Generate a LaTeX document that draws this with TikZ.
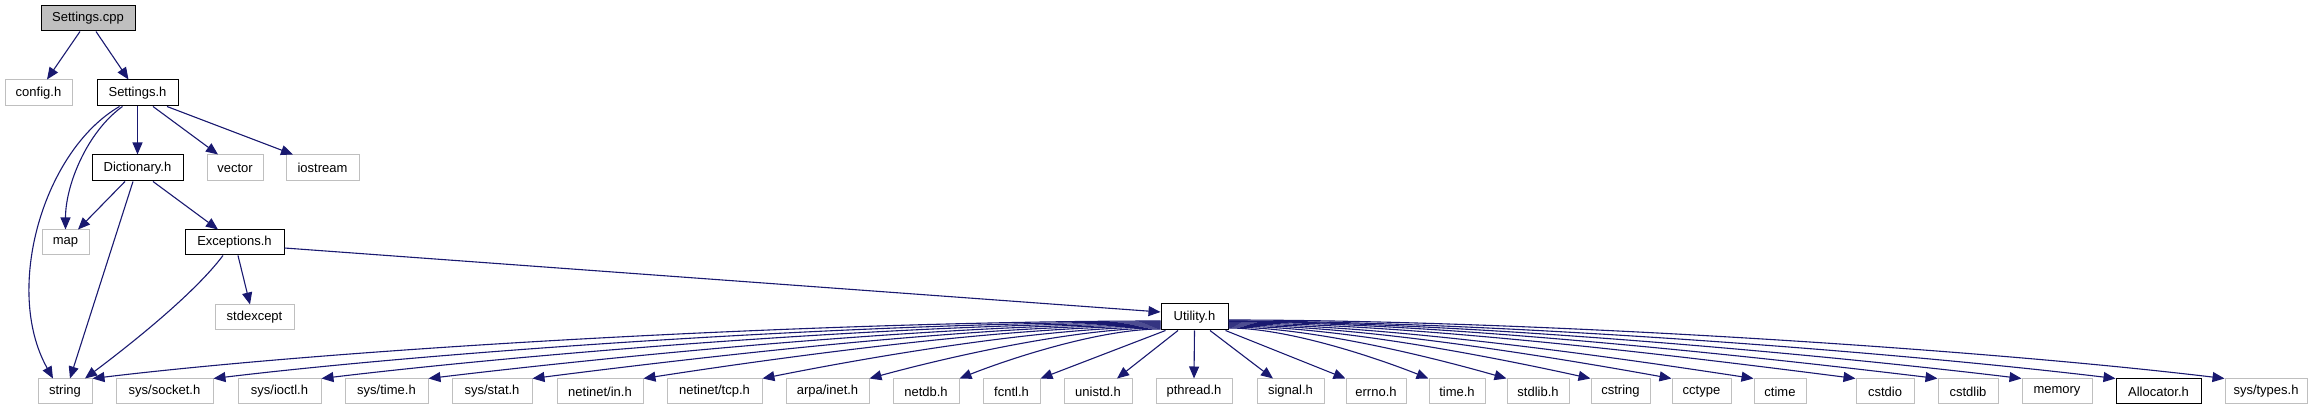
\documentclass[tikz,border=0pt]{standalone}
\usepackage{fontspec}
\setmainfont{Liberation Sans}
\usetikzlibrary{arrows.meta}
\definecolor{edgeblue}{HTML}{191970}
\definecolor{boxgray}{HTML}{BFBFBF}
\newcommand\gnode[7]{\node[#1, minimum width={#5-#3}, minimum height={#6-#4}] (#2) at ({(#3+#5)/2},{(#4+#6)/2}) {#7};}
\begin{document}
\begin{tikzpicture}[x=1pt,y=-1pt,
  every node/.style={font=\fontsize{13pt}{15pt}\selectfont, inner sep=0pt, rectangle},
  ext/.style={draw=boxgray, line width=1pt, fill=white},
  inc/.style={draw=black, line width=1pt, fill=white},
  mainbox/.style={draw=black, line width=1pt, fill=boxgray},
  edge/.style={draw=edgeblue, line width=1.1pt, -{Triangle[length=12pt,width=10pt]}}]
\useasboundingbox (0,0) rectangle (2321,411);
\gnode{mainbox}{cpp}{41}{6}{135}{31}{Settings.cpp}
\gnode{ext}{config}{5}{80}{72}{106}{config.h}
\gnode{inc}{seth}{97}{80}{178}{106}{Settings.h}
\gnode{inc}{dict}{92}{155}{183}{181}{Dictionary.h}
\gnode{ext}{vector}{207}{155}{263}{181}{vector}
\gnode{ext}{iostream}{286}{155}{359}{181}{iostream}
\gnode{ext}{map}{42}{230}{89}{255}{map}
\gnode{inc}{exc}{185}{230}{284}{255}{Exceptions.h}
\gnode{ext}{stdexcept}{215}{305}{294}{330}{stdexcept}
\gnode{inc}{util}{1161}{304}{1228}{330}{Utility.h}
\gnode{ext}{string}{38}{379}{92}{404}{string}
\gnode{ext}{socket}{116}{379}{213}{404}{sys/socket.h}
\gnode{ext}{ioctl}{238}{379}{321}{404}{sys/ioctl.h}
\gnode{ext}{systime}{345}{379}{428}{404}{sys/time.h}
\gnode{ext}{sysstat}{452}{379}{532}{404}{sys/stat.h}
\gnode{ext}{netin}{557}{379}{643}{404}{netinet/in.h}
\gnode{ext}{nettcp}{667}{379}{762}{404}{netinet/tcp.h}
\gnode{ext}{arpa}{786}{379}{869}{404}{arpa/inet.h}
\gnode{ext}{netdb}{893}{379}{959}{404}{netdb.h}
\gnode{ext}{fcntl}{983}{379}{1040}{404}{fcntl.h}
\gnode{ext}{unistd}{1064}{379}{1132}{404}{unistd.h}
\gnode{ext}{pthread}{1156}{379}{1232}{404}{pthread.h}
\gnode{ext}{signal}{1257}{379}{1324}{404}{signal.h}
\gnode{ext}{errno}{1346}{379}{1406}{404}{errno.h}
\gnode{ext}{time}{1429}{379}{1485}{404}{time.h}
\gnode{ext}{stdlib}{1507}{379}{1569}{404}{stdlib.h}
\gnode{ext}{cstring}{1591}{379}{1650}{404}{cstring}
\gnode{ext}{cctype}{1672}{379}{1731}{404}{cctype}
\gnode{ext}{ctime}{1754}{379}{1806}{404}{ctime}
\gnode{ext}{cstdio}{1856}{379}{1914}{404}{cstdio}
\gnode{ext}{cstdlib}{1938}{379}{1998}{404}{cstdlib}
\gnode{ext}{memory}{2022}{379}{2092}{404}{memory}
\gnode{inc}{alloc}{2116}{379}{2201}{404}{Allocator.h}
\gnode{ext}{systypes}{2225}{379}{2307}{404}{sys/types.h}
% upper edges
\draw[edge] ([xshift=-8pt]cpp.south) -- ([xshift=8.5pt]config.north);
\draw[edge] ([xshift=8pt]cpp.south) -- ([xshift=-9pt]seth.north);
\draw[edge] ([xshift=-18pt]seth.south) .. controls +(-76,44) and +(-50,-89) .. ([xshift=-12pt]string.north);
\draw[edge] ([xshift=-15pt]seth.south) .. controls +(-35,25) and +(0,-45) .. (map.north);
\draw[edge] (seth.south) -- (dict.north);
\draw[edge] ([xshift=15.5pt]seth.south) -- ([xshift=-17pt]vector.north);
\draw[edge] ([xshift=29.5pt]seth.south) -- ([xshift=-29.5pt]iostream.north);
\draw[edge] ([xshift=-12.5pt]dict.south) -- ([xshift=12.5pt]map.north);
\draw[edge] ([xshift=-4.5pt]dict.south) -- ([xshift=5pt]string.north);
\draw[edge] ([xshift=15.5pt]dict.south) -- ([xshift=-16.5pt]exc.north);
\draw[edge] ([xshift=-11.5pt]exc.south) .. controls +(-30,40) and +(40,-30) .. ([xshift=20pt]string.north);
\draw[edge] ([xshift=3.5pt]exc.south) -- ([xshift=-4.5pt]stdexcept.north);
\draw[edge] ([yshift=-5.5pt]exc.east) -- ([yshift=5pt]util.west);
% utility fan, left
\foreach \nm/\dy/\dd in {string/-4/1069, socket/-5/948, ioctl/-6/840, systime/-7/733, sysstat/-8/629, netin/-9/518, nettcp/-10/399, arpa/-11/292, netdb/-12/202}{
  \pgfmathsetmacro\ca{0.3*\dd}
  \pgfmathsetmacro\cb{0.25*\dd}
  \pgfmathsetmacro\cc{0.25*\dd*max(0.12,80/\dd)}
  \draw[edge] ([yshift=\dy pt]util.west) .. controls +(-\ca,0) and +(\cb,-\cc) .. (\nm.north east);
}
\draw[edge] ([xshift=5pt]util.south west) -- (fcntl.north east);
\draw[edge] ([xshift=-16.5pt]util.south) -- ([xshift=19pt]unistd.north);
\draw[edge] (util.south) -- (pthread.north);
\draw[edge] ([xshift=15.5pt]util.south) -- ([xshift=-17.5pt]signal.north);
\draw[edge] ([xshift=-3pt]util.south east) -- (errno.north west);
% utility fan, right
\foreach \nm/\dy/\dd in {time/-11/201, stdlib/-10/279, cstring/-9/363, cctype/-8/444, ctime/-7/526, cstdio/-6/628, cstdlib/-5/710, memory/-4.5/794, alloc/-4/888, systypes/-3/997}{
  \pgfmathsetmacro\ca{0.3*\dd}
  \pgfmathsetmacro\cb{0.25*\dd}
  \pgfmathsetmacro\cc{0.25*\dd*max(0.12,80/\dd)}
  \draw[edge] ([yshift=\dy pt]util.east) .. controls +(\ca,0) and +(-\cb,-\cc) .. (\nm.north west);
}
\end{tikzpicture}
\end{document}
